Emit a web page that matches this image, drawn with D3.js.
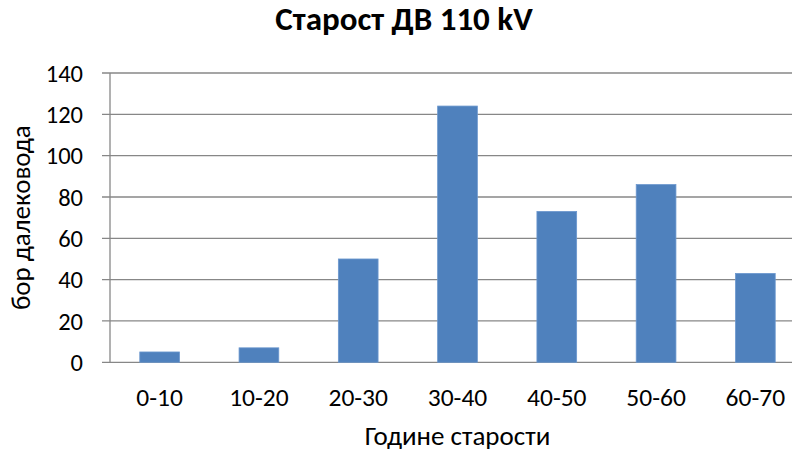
<!DOCTYPE html>
<html>
<head>
<meta charset="utf-8">
<script src="https://cdn.jsdelivr.net/npm/d3@7"></script>
<style>
  html, body { margin: 0; padding: 0; background: #fff; overflow: hidden; }
  svg { display: block; }
  text { font-family: Carlito, Calibri, "Open Sans", sans-serif; fill: #000; }
</style>
</head>
<body>
<script>
const categories = ["0-10", "10-20", "20-30", "30-40", "40-50", "50-60", "60-70"];
const values = [5, 7, 50, 124, 73, 86, 43];
const yTicks = [0, 20, 40, 60, 80, 100, 120, 140];
const title = "Старост ДВ 110 kV";
const xTitle = "Године старости";
const yTitle = "бор далековода";

const W = 792, H = 451;
const m = { left: 110, top: 73, right: 805, bottom: 362.3 };

const svg = d3.select("body").append("svg").attr("width", W).attr("height", H);

const x = d3.scaleBand().domain(categories).range([m.left, m.right]).paddingInner(0.6).paddingOuter(0.3);
const y = d3.scaleLinear().domain([0, 140]).range([m.bottom, m.top]);

// gridlines
svg.append("g").selectAll("line").data(yTicks).join("line")
  .attr("x1", m.left - 8).attr("x2", m.right)
  .attr("y1", d => y(d)).attr("y2", d => y(d))
  .attr("stroke", "#878787").attr("stroke-width", 1.3);

// y axis line
svg.append("line").attr("x1", m.left).attr("x2", m.left)
  .attr("y1", m.top).attr("y2", m.bottom)
  .attr("stroke", "#878787").attr("stroke-width", 1.3);

// bars
svg.append("g").selectAll("rect").data(values).join("rect")
  .attr("x", (d, i) => x(categories[i]))
  .attr("width", x.bandwidth())
  .attr("y", d => y(d))
  .attr("height", d => y(0) - y(d))
  .attr("fill", "#4F81BD")
  .attr("stroke", "#6B97CE").attr("stroke-width", 0.8);

// y axis labels
const yAxis = svg.append("g").attr("transform", `translate(83,0)`)
  .call(d3.axisLeft(y).tickValues(yTicks).tickSize(0).tickPadding(0));
yAxis.select(".domain").remove();
yAxis.selectAll("text").style("font-size", "24.5px").attr("fill", "#000").attr("x", 0).attr("dy", "0.33em");

// x axis labels
const xAxis = svg.append("g").attr("transform", `translate(0,${m.bottom})`)
  .call(d3.axisBottom(x).tickSize(0).tickPadding(0));
xAxis.select(".domain").remove();
xAxis.selectAll("text").style("font-size", "25.5px").attr("fill", "#000").attr("dy", "0.33em").attr("y", 35);

// title
svg.append("text").attr("x", 404).attr("y", 30).attr("text-anchor", "middle")
  .style("font-size", "33px").style("font-weight", "bold").text(title);

// x title
svg.append("text").attr("x", (m.left + m.right) / 2).attr("y", 445).attr("text-anchor", "middle")
  .style("font-size", "27px").text(xTitle);

// y title
svg.append("text").attr("transform", `translate(30,${(m.top + m.bottom) / 2}) rotate(-90)`)
  .attr("text-anchor", "middle").style("font-size", "27px").text(yTitle);
</script>
</body>
</html>
